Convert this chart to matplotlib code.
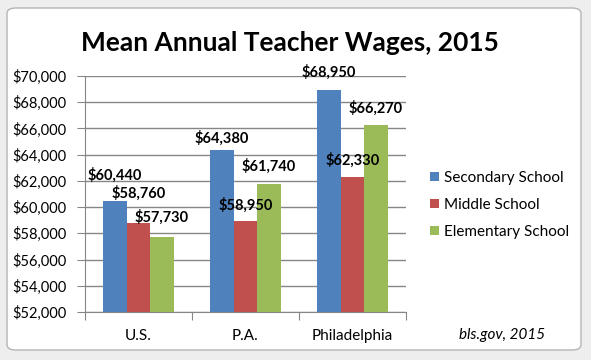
import matplotlib
matplotlib.use("Agg")
import matplotlib.pyplot as plt
from matplotlib.patches import FancyBboxPatch
from matplotlib.ticker import FuncFormatter
import numpy as np

plt.rcParams['font.family'] = ['Lato', 'DejaVu Sans']

# data
regions = ["U.S.", "P.A.", "Philadelphia"]
secondary = [60440, 64380, 68950]
middle = [58760, 58950, 62330]
elementary = [57730, 61740, 66270]
series_names = ["Secondary School", "Middle School", "Elementary School"]

colors = ["#4F81BD", "#C0504D", "#9BBB59"]

fig = plt.figure(figsize=(5.91, 3.60), dpi=100)
fig.patch.set_facecolor("#eeeeee")

# chart frame
frame = FancyBboxPatch((7 / 591, 10 / 360), 574 / 591, 342 / 360,
                       boxstyle="round,pad=0,rounding_size=0.015",
                       transform=fig.transFigure, facecolor="white",
                       edgecolor="#b4b4b4", linewidth=1.0, zorder=-5)
fig.patches.append(frame)

ax = fig.add_axes([85 / 591, 1 - 312 / 360, 321 / 591, 236 / 360])
ax.set_facecolor("none")

x = np.arange(len(regions))
w = 0.22
all_series = [secondary, middle, elementary]
# label lift above each bar (chart units), as placed in the original
lifts = [[2000, 890, 1355], [2300, 1210, 1263], [1500, 1400, 1290]]

for i, (vals, name, c) in enumerate(zip(all_series, series_names, colors)):
    pos = x + (i - 1) * w
    ax.bar(pos, np.array(vals) - 52000, bottom=52000, width=w, color=c,
           label=name, zorder=3)
    for p, v, lift in zip(pos, vals, lifts[i]):
        ax.text(p, v + lift, "${:,}".format(v), ha="center", va="center",
                fontsize=10.5, fontweight="bold", clip_on=False, zorder=4)

ax.set_ylim(52000, 70000)
ax.set_xlim(-0.5, 2.5)
ax.set_yticks(range(52000, 70001, 2000))
ax.yaxis.set_major_formatter(FuncFormatter(lambda v, p: "${:,.0f}".format(v)))
ax.grid(axis="y", color="#868686", linewidth=1, zorder=0)

ax.set_xticks([-0.5, 0.5, 1.5, 2.5])
ax.set_xticklabels([])
ax.set_xticks(x, minor=True)
ax.set_xticklabels(regions, minor=True)
ax.tick_params(axis="x", which="minor", length=0, pad=12, labelsize=11)
ax.tick_params(axis="x", which="major", length=6, color="#868686")
ax.tick_params(axis="y", length=6, color="#868686", labelsize=10.5, pad=7)

for s in ["top", "right"]:
    ax.spines[s].set_visible(False)
for s in ["left", "bottom"]:
    ax.spines[s].set_color("#868686")

fig.text(0.49, 1 - 43 / 360, "Mean Annual Teacher Wages, 2015",
         ha="center", va="center", fontsize=19, fontweight="bold")

fig.legend(loc="center left", bbox_to_anchor=(430 / 591, 1 - 205 / 360),
           frameon=False, fontsize=11, handlelength=0.6, handleheight=0.6,
           handletextpad=0.3, labelspacing=0.85, borderpad=0,
           borderaxespad=0)

fig.text(545 / 591, 1 - 335 / 360, "bls.gov, 2015", ha="right", va="center",
         fontsize=11, style="italic")

fig.savefig("out.png", dpi=100, facecolor=fig.get_facecolor())
